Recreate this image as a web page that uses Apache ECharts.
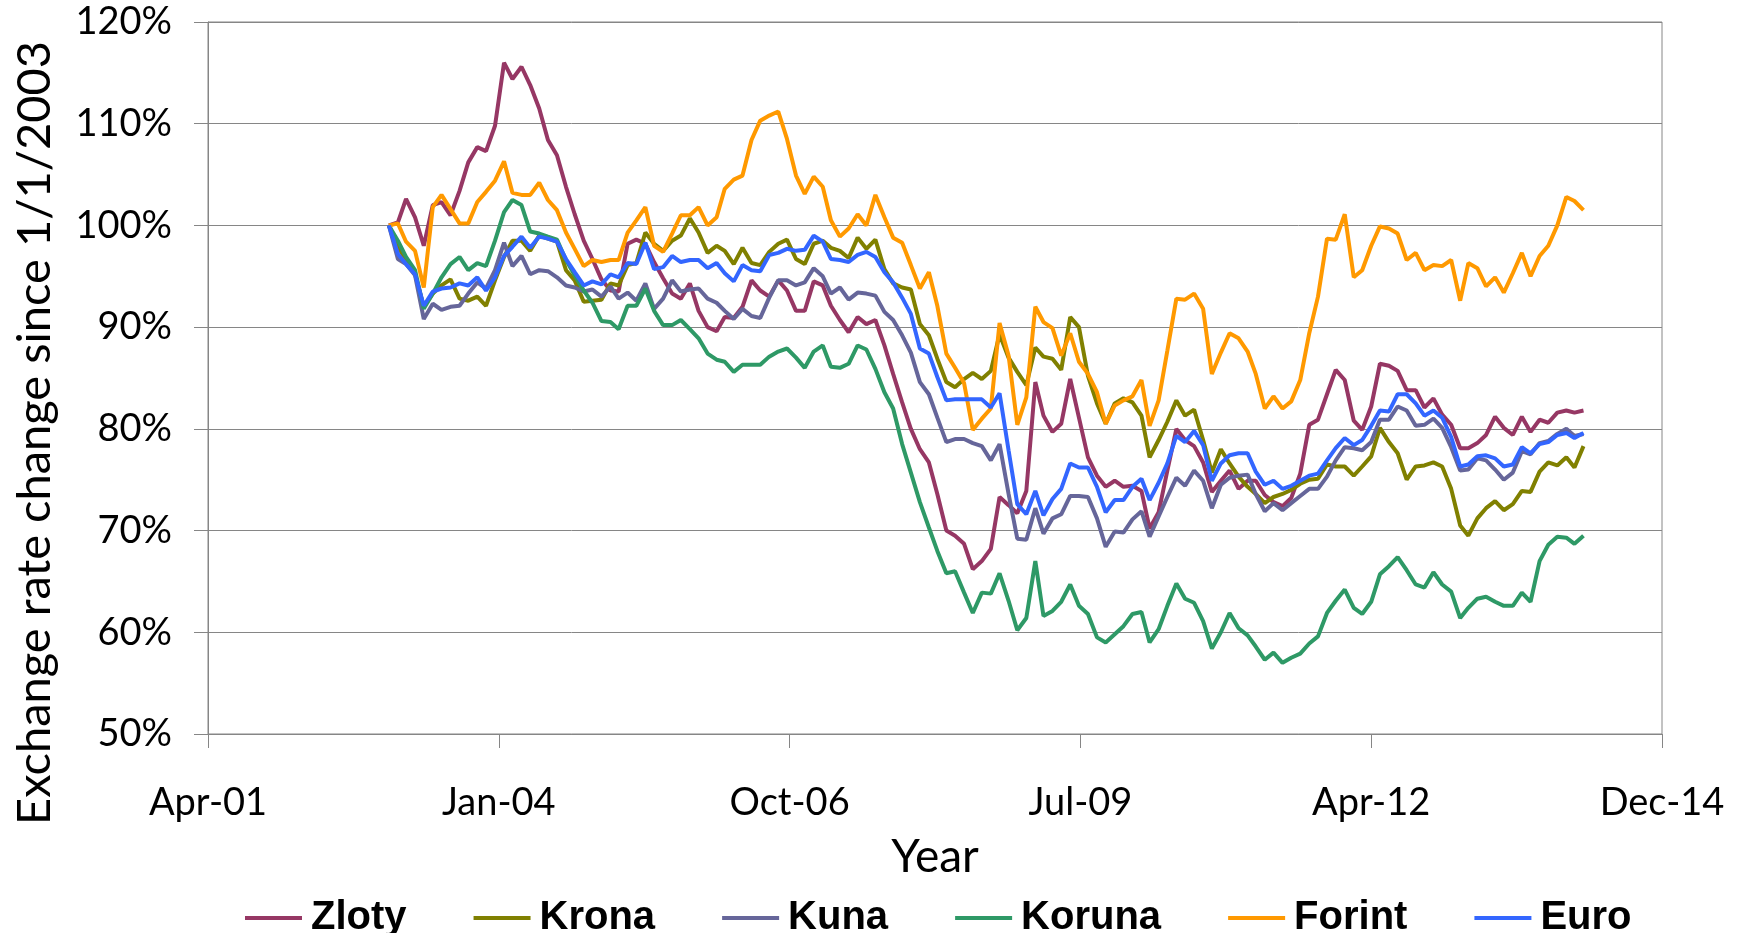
<!DOCTYPE html>
<html>
<head>
<meta charset="utf-8">
<script src="https://cdn.jsdelivr.net/npm/echarts@6/dist/echarts.min.js"></script>
<style>
html,body{margin:0;padding:0;background:#fff;}
#chart{width:1739px;height:933px;}
</style>
</head>
<body>
<div id="chart"></div>
<script>
// Monthly observations, first one January 2003
const startYear = 2003;
const startMonth = 1;

const seriesNames = ['Zloty', 'Krona', 'Kuna', 'Koruna', 'Forint', 'Euro'];

const zloty = [100,100.3,102.6,100.8,98.0,102.0,102.3,101.0,103.4,106.2,107.7,107.3,109.8,116.0,114.4,115.6,113.8,111.5,108.4,106.9,103.8,101.1,98.5,96.7,94.7,93.6,93.5,98.2,98.6,98.2,96.4,94.8,93.3,92.8,94.3,91.6,90.0,89.6,91.0,90.9,92.0,94.6,93.6,93.0,94.6,93.6,91.6,91.6,94.5,94.1,92.1,90.7,89.5,91.0,90.3,90.7,88.2,85.4,82.6,80.0,78.0,76.7,73.6,70.0,69.5,68.7,66.2,67.0,68.2,73.3,72.5,71.7,73.9,84.6,81.3,79.7,80.5,84.9,81.1,77.2,75.4,74.3,74.9,74.3,74.4,73.9,70.2,71.8,75.9,80.0,78.9,78.3,76.7,73.8,74.9,75.9,74.1,74.9,74.9,73.5,72.8,72.4,73.2,75.6,80.4,80.9,83.4,85.8,84.8,80.8,79.9,82.2,86.4,86.2,85.7,83.8,83.8,82.1,83.0,81.4,80.4,78.1,78.1,78.6,79.4,81.2,80.1,79.4,81.2,79.7,80.9,80.6,81.6,81.8,81.6,81.8];

const krona = [100,97.9,96.6,95.2,92.0,93.3,94.1,94.7,92.8,92.6,93.0,92.1,94.6,96.9,98.5,98.5,97.5,99.0,98.7,98.4,95.6,94.6,92.5,92.6,92.7,94.3,94.1,96.1,96.3,99.3,98.2,97.5,98.5,99.0,100.7,99.3,97.3,98.0,97.5,96.2,97.8,96.3,96.1,97.4,98.2,98.6,96.7,96.2,98.2,98.5,97.8,97.5,96.8,98.8,97.7,98.6,95.7,94.3,93.9,93.7,90.3,89.2,86.9,84.6,84.1,84.9,85.5,84.9,85.7,89.3,87.0,85.6,84.3,88.0,87.1,86.9,85.8,91.0,90.0,85.2,82.5,80.5,82.5,83.0,82.6,81.3,77.2,78.9,80.7,82.8,81.3,81.9,78.9,75.7,78.0,76.6,75.3,74.3,73.6,72.7,73.3,73.6,74.0,74.6,75.0,75.1,76.5,76.3,76.3,75.4,76.3,77.3,80.1,78.7,77.6,75.0,76.3,76.4,76.7,76.3,74.1,70.5,69.5,71.2,72.2,72.9,72.0,72.6,73.9,73.8,75.8,76.7,76.4,77.2,76.2,78.3];

const kuna = [100,96.7,96.2,95.1,90.8,92.3,91.7,92.0,92.1,93.3,94.4,93.8,95.6,98.3,96.0,97.0,95.2,95.6,95.5,94.9,94.1,93.9,93.5,93.7,93.0,94.0,92.8,93.4,92.6,94.3,91.8,92.8,94.6,93.5,93.7,93.8,92.8,92.4,91.6,90.8,91.8,91.1,90.9,92.9,94.6,94.6,94.1,94.4,95.8,95.0,93.3,93.9,92.7,93.4,93.3,93.1,91.5,90.7,89.2,87.5,84.6,83.4,81.1,78.7,79.0,79.0,78.6,78.3,76.9,78.5,73.6,69.2,69.1,72.2,69.7,71.2,71.6,73.4,73.4,73.3,71.2,68.4,69.9,69.8,71.1,71.9,69.4,71.4,73.3,75.2,74.4,75.9,74.9,72.2,74.5,75.2,75.4,75.5,73.6,71.9,72.7,72.0,72.7,73.4,74.1,74.1,75.3,76.9,78.2,78.1,77.9,78.7,80.9,80.9,82.2,81.8,80.3,80.4,81.0,80.1,78.2,75.9,76.0,77.1,76.9,76.0,75.0,75.7,77.8,77.5,78.6,78.8,79.5,80.0,79.3,79.5];

const koruna = [100,98.5,96.9,95.6,91.8,93.3,94.9,96.2,96.9,95.6,96.3,96.0,98.5,101.3,102.5,102.0,99.4,99.2,98.9,98.6,96.6,95.1,93.6,92.4,90.6,90.5,89.8,92.1,92.1,93.8,91.6,90.2,90.2,90.7,89.8,88.9,87.4,86.8,86.6,85.6,86.3,86.3,86.3,87.1,87.6,87.9,87.0,86.0,87.6,88.2,86.1,86.0,86.4,88.2,87.8,85.9,83.6,82.0,78.5,75.7,72.8,70.3,68.0,65.8,66.0,63.9,61.9,63.9,63.8,65.8,63.1,60.2,61.4,67.0,61.6,62.1,63.0,64.7,62.6,61.8,59.5,59.0,59.8,60.6,61.8,62.0,59.0,60.3,62.6,64.8,63.3,62.9,61.1,58.4,60.0,61.9,60.4,59.7,58.6,57.3,58.0,57.0,57.5,57.9,58.9,59.6,61.9,63.1,64.2,62.4,61.8,63.0,65.7,66.5,67.4,66.1,64.7,64.4,65.9,64.7,64.0,61.4,62.4,63.3,63.5,63.0,62.6,62.6,63.9,63.0,67.0,68.6,69.4,69.3,68.7,69.5];

const forint = [100,100.2,98.4,97.5,93.9,101.8,103.0,101.6,100.2,100.2,102.3,103.3,104.4,106.3,103.2,103.0,103.0,104.2,102.5,101.5,99.3,97.7,96.0,96.6,96.4,96.6,96.6,99.3,100.5,101.8,98.0,97.4,99.2,101.0,101.0,101.8,100.0,100.8,103.6,104.5,104.9,108.4,110.3,110.8,111.2,108.5,104.9,103.1,104.8,103.8,100.5,98.9,99.7,101.1,100.0,103.0,100.8,98.8,98.3,96.1,93.8,95.4,92.1,87.4,86.0,84.5,79.9,81.0,82.0,90.4,87.2,80.4,83.1,92.0,90.5,89.9,87.2,89.4,86.6,85.4,83.6,80.5,82.3,82.8,83.2,84.8,80.3,82.8,87.7,92.8,92.7,93.3,91.8,85.4,87.5,89.4,88.9,87.6,85.4,82.0,83.2,82.0,82.7,84.8,89.4,93.0,98.7,98.6,101.1,94.9,95.6,98.0,99.9,99.7,99.2,96.6,97.3,95.6,96.1,96.0,96.6,92.6,96.3,95.8,94.0,94.9,93.4,95.3,97.3,95.0,97.0,98.0,100.0,102.8,102.4,101.5];

const euro = [100,97.2,96.2,95.2,92.1,93.5,93.8,93.9,94.3,94.1,94.9,93.6,94.9,97.0,97.9,98.9,97.8,98.9,98.7,98.4,96.7,95.4,94.1,94.5,94.2,95.2,94.9,96.3,96.2,98.3,95.7,95.9,97.0,96.4,96.6,96.6,95.8,96.3,95.3,94.5,96.1,95.6,95.5,97.1,97.3,97.7,97.5,97.6,99.0,98.4,96.7,96.6,96.4,97.1,97.4,96.9,95.4,94.4,92.9,91.3,87.9,87.4,85.1,82.8,82.9,82.9,82.9,82.9,82.1,83.5,77.9,72.6,71.6,73.9,71.5,73.1,74.1,76.6,76.2,76.2,74.3,71.8,73.0,73.0,74.3,75.1,73.0,74.7,76.6,79.3,78.7,79.8,78.4,74.9,76.6,77.4,77.6,77.6,75.8,74.5,74.9,74.1,74.4,74.9,75.4,75.6,76.9,78.1,79.1,78.4,78.9,80.3,81.8,81.7,83.4,83.4,82.5,81.3,81.8,81.1,79.2,76.3,76.5,77.3,77.4,77.1,76.3,76.5,78.2,77.6,78.5,78.7,79.4,79.6,79.1,79.6];

// X axis (Excel-style date serials) and Y axis ticks
const xMin = 37000, xMax = 42000, xStep = 1000;
const yMin = 50, yMax = 120, yStep = 10;

const colors = ['#963764', '#808000', '#66669A', '#2E9966', '#FF9900', '#3366FF'];
const seriesData = [zloty, krona, kuna, koruna, forint, euro];

const MON = ['Jan','Feb','Mar','Apr','May','Jun','Jul','Aug','Sep','Oct','Nov','Dec'];
const EPOCH = Date.UTC(1899, 11, 30);
function monthSerial(k) {
  const m0 = startMonth - 1 + k;
  const y = startYear + Math.floor(m0 / 12);
  const m = m0 % 12;
  return Math.round((Date.UTC(y, m, 1) - EPOCH) / 86400000);
}
function serialLabel(v) {
  const d = new Date(EPOCH + v * 86400000);
  const yy = String(d.getUTCFullYear() % 100).padStart(2, '0');
  return MON[d.getUTCMonth()] + '-' + yy;
}

const chart = echarts.init(document.getElementById('chart'), null, {renderer: 'canvas'});
const labelFont = 'Lato';
const option = {
  animation: false,
  backgroundColor: '#ffffff',
  grid: {
    left: 208, right: 77, top: 22, bottom: 199,
    containLabel: false, outerBoundsMode: 'none',
    show: true, borderColor: '#868686', borderWidth: 1
  },
  legend: {
    data: seriesNames,
    left: 240, top: 893,
    icon: 'rect',
    itemWidth: 57, itemHeight: 4,
    itemGap: 67,
    textStyle: {fontFamily: 'Liberation Sans', fontWeight: 'bold', fontSize: 40, color: '#000', padding: [0, 0, 0, 4]}
  },
  xAxis: {
    type: 'value', min: xMin, max: xMax, interval: xStep,
    name: 'Year', nameLocation: 'middle', nameGap: 100,
    nameTextStyle: {fontFamily: labelFont, fontSize: 46, color: '#000'},
    axisLine: {show: true, lineStyle: {color: '#868686', width: 1}},
    axisTick: {show: true, length: 14, lineStyle: {color: '#868686'}},
    splitLine: {show: false},
    axisLabel: {fontFamily: labelFont, fontSize: 38, color: '#000', margin: 50, formatter: serialLabel}
  },
  yAxis: {
    type: 'value', min: yMin, max: yMax, interval: yStep,
    name: 'Exchange rate change since 1/1/2003', nameLocation: 'middle', nameRotate: 90, nameGap: 150,
    nameTextStyle: {fontFamily: labelFont, fontSize: 47, color: '#000', padding: [0, 110, 0, 0]},
    axisLine: {show: true, lineStyle: {color: '#868686', width: 1}},
    axisTick: {show: true, length: 14, lineStyle: {color: '#868686'}},
    splitLine: {show: true, lineStyle: {color: '#868686', width: 1}},
    axisLabel: {fontFamily: labelFont, fontSize: 38, color: '#000', margin: 36, formatter: '{value}%'}
  },
  series: seriesNames.map((name, s) => ({
    name: name,
    type: 'line',
    showSymbol: false,
    symbol: 'none',
    color: colors[s],
    lineStyle: {width: 4, color: colors[s]},
    data: seriesData[s].map((v, k) => [monthSerial(k), v])
  }))
};
chart.setOption(option);
</script>
</body>
</html>
